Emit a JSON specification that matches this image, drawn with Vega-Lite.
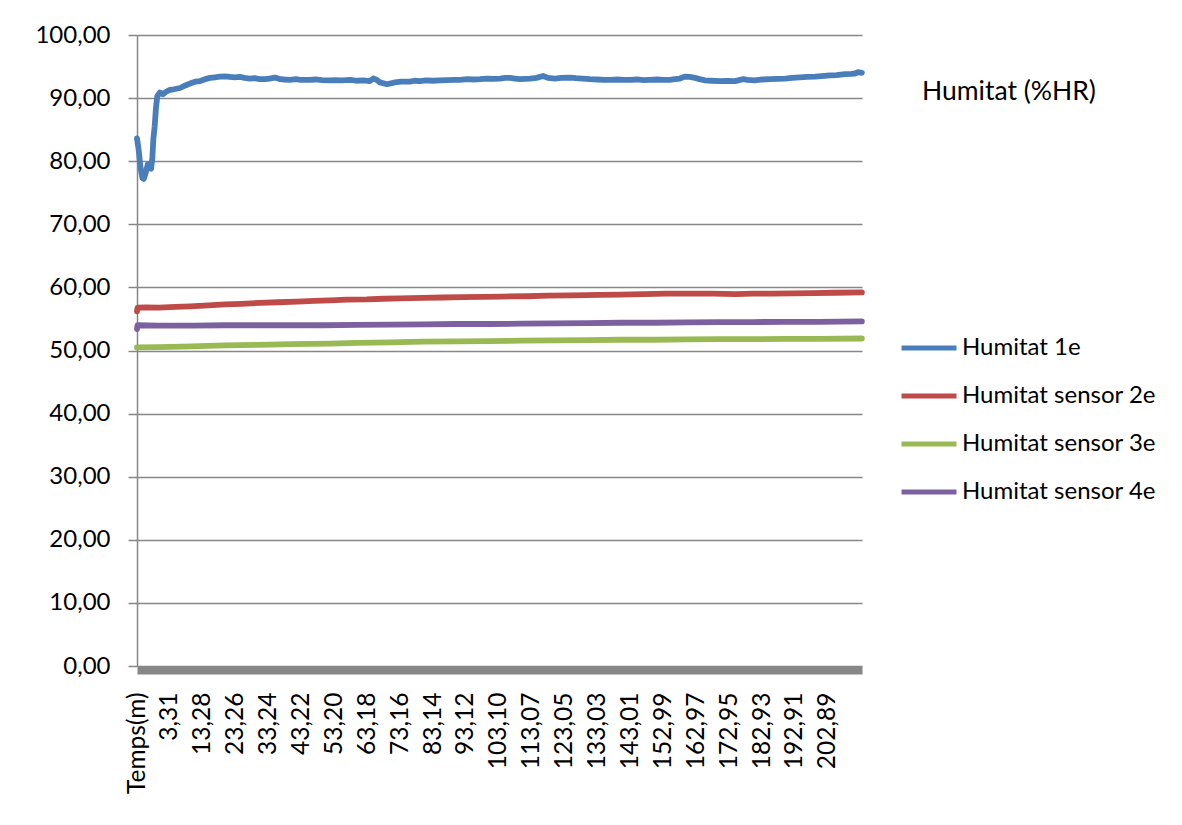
{
  "$schema": "https://vega.github.io/schema/vega-lite/v6.json",
  "width": 725,
  "height": 631,
  "autosize": {"type": "none"},
  "padding": {"left": 137, "top": 35, "right": 320, "bottom": 159},
  "background": "white",
  "title": {"text": "Humitat (%HR)", "orient": "top", "anchor": "start", "frame": "group", "dx": 785, "offset": 0, "dy": 95, "baseline": "middle", "font": "Lato", "fontSize": 26.5, "fontWeight": "normal", "color": "#000000"},
  "config": {
    "view": {"stroke": null},
    "font": "Lato"
  },
  "data": {"values": [
    {"t": -6.66, "s": "Humitat 1e", "v": 83.6},
    {"t": -6.2, "s": "Humitat 1e", "v": 82.0},
    {"t": -5.6, "s": "Humitat 1e", "v": 79.0},
    {"t": -5.0, "s": "Humitat 1e", "v": 77.3},
    {"t": -4.6, "s": "Humitat 1e", "v": 77.2},
    {"t": -4.0, "s": "Humitat 1e", "v": 78.2},
    {"t": -3.4, "s": "Humitat 1e", "v": 79.5},
    {"t": -2.9, "s": "Humitat 1e", "v": 79.0},
    {"t": -2.4, "s": "Humitat 1e", "v": 78.8},
    {"t": -2.0, "s": "Humitat 1e", "v": 80.5},
    {"t": -1.7, "s": "Humitat 1e", "v": 83.5},
    {"t": -1.3, "s": "Humitat 1e", "v": 85.5},
    {"t": -0.9, "s": "Humitat 1e", "v": 88.5},
    {"t": -0.5, "s": "Humitat 1e", "v": 90.3},
    {"t": 0.3, "s": "Humitat 1e", "v": 90.9},
    {"t": 1.2, "s": "Humitat 1e", "v": 90.6},
    {"t": 2.2, "s": "Humitat 1e", "v": 91.0},
    {"t": 3.3, "s": "Humitat 1e", "v": 91.3},
    {"t": 4.5, "s": "Humitat 1e", "v": 91.4},
    {"t": 6.4, "s": "Humitat 1e", "v": 91.6},
    {"t": 8.0, "s": "Humitat 1e", "v": 92.0},
    {"t": 9.4, "s": "Humitat 1e", "v": 92.3},
    {"t": 11.0, "s": "Humitat 1e", "v": 92.6},
    {"t": 12.5, "s": "Humitat 1e", "v": 92.7},
    {"t": 14.0, "s": "Humitat 1e", "v": 93.0},
    {"t": 15.5, "s": "Humitat 1e", "v": 93.2},
    {"t": 17.0, "s": "Humitat 1e", "v": 93.3},
    {"t": 18.5, "s": "Humitat 1e", "v": 93.4},
    {"t": 20.0, "s": "Humitat 1e", "v": 93.45},
    {"t": 21.5, "s": "Humitat 1e", "v": 93.35},
    {"t": 23.0, "s": "Humitat 1e", "v": 93.3},
    {"t": 24.5, "s": "Humitat 1e", "v": 93.35},
    {"t": 26.0, "s": "Humitat 1e", "v": 93.2},
    {"t": 27.6, "s": "Humitat 1e", "v": 93.1},
    {"t": 29.0, "s": "Humitat 1e", "v": 93.15},
    {"t": 30.5, "s": "Humitat 1e", "v": 93.0},
    {"t": 32.2, "s": "Humitat 1e", "v": 93.0},
    {"t": 33.5, "s": "Humitat 1e", "v": 93.1},
    {"t": 35.2, "s": "Humitat 1e", "v": 93.25},
    {"t": 36.8, "s": "Humitat 1e", "v": 93.0},
    {"t": 38.0, "s": "Humitat 1e", "v": 92.95},
    {"t": 39.7, "s": "Humitat 1e", "v": 92.9},
    {"t": 41.5, "s": "Humitat 1e", "v": 93.0},
    {"t": 43.0, "s": "Humitat 1e", "v": 92.9},
    {"t": 45.8, "s": "Humitat 1e", "v": 92.9},
    {"t": 47.5, "s": "Humitat 1e", "v": 92.95},
    {"t": 49.5, "s": "Humitat 1e", "v": 92.85},
    {"t": 51.9, "s": "Humitat 1e", "v": 92.8},
    {"t": 53.5, "s": "Humitat 1e", "v": 92.85},
    {"t": 55.5, "s": "Humitat 1e", "v": 92.8},
    {"t": 58.0, "s": "Humitat 1e", "v": 92.9},
    {"t": 60.0, "s": "Humitat 1e", "v": 92.75},
    {"t": 62.0, "s": "Humitat 1e", "v": 92.8},
    {"t": 64.0, "s": "Humitat 1e", "v": 92.7},
    {"t": 65.0, "s": "Humitat 1e", "v": 93.1},
    {"t": 66.0, "s": "Humitat 1e", "v": 92.9},
    {"t": 67.0, "s": "Humitat 1e", "v": 92.5},
    {"t": 69.2, "s": "Humitat 1e", "v": 92.2},
    {"t": 71.6, "s": "Humitat 1e", "v": 92.5},
    {"t": 73.5, "s": "Humitat 1e", "v": 92.6},
    {"t": 76.1, "s": "Humitat 1e", "v": 92.6},
    {"t": 77.5, "s": "Humitat 1e", "v": 92.75},
    {"t": 79.2, "s": "Humitat 1e", "v": 92.7},
    {"t": 81.0, "s": "Humitat 1e", "v": 92.8},
    {"t": 83.0, "s": "Humitat 1e", "v": 92.75},
    {"t": 85.2, "s": "Humitat 1e", "v": 92.8},
    {"t": 87.5, "s": "Humitat 1e", "v": 92.85},
    {"t": 89.5, "s": "Humitat 1e", "v": 92.9},
    {"t": 91.3, "s": "Humitat 1e", "v": 92.9},
    {"t": 93.5, "s": "Humitat 1e", "v": 93.0},
    {"t": 95.5, "s": "Humitat 1e", "v": 92.95},
    {"t": 97.4, "s": "Humitat 1e", "v": 93.0},
    {"t": 99.5, "s": "Humitat 1e", "v": 93.1},
    {"t": 101.5, "s": "Humitat 1e", "v": 93.05},
    {"t": 103.4, "s": "Humitat 1e", "v": 93.1},
    {"t": 105.0, "s": "Humitat 1e", "v": 93.2},
    {"t": 106.5, "s": "Humitat 1e", "v": 93.2},
    {"t": 108.0, "s": "Humitat 1e", "v": 93.1},
    {"t": 109.5, "s": "Humitat 1e", "v": 93.0},
    {"t": 111.0, "s": "Humitat 1e", "v": 93.05},
    {"t": 112.5, "s": "Humitat 1e", "v": 93.1},
    {"t": 114.5, "s": "Humitat 1e", "v": 93.2},
    {"t": 116.5, "s": "Humitat 1e", "v": 93.5},
    {"t": 118.0, "s": "Humitat 1e", "v": 93.2},
    {"t": 120.1, "s": "Humitat 1e", "v": 93.1},
    {"t": 122.0, "s": "Humitat 1e", "v": 93.2},
    {"t": 124.7, "s": "Humitat 1e", "v": 93.25},
    {"t": 126.5, "s": "Humitat 1e", "v": 93.15},
    {"t": 128.5, "s": "Humitat 1e", "v": 93.1},
    {"t": 130.7, "s": "Humitat 1e", "v": 93.0},
    {"t": 133.0, "s": "Humitat 1e", "v": 92.95},
    {"t": 135.0, "s": "Humitat 1e", "v": 92.9},
    {"t": 136.8, "s": "Humitat 1e", "v": 92.9},
    {"t": 139.0, "s": "Humitat 1e", "v": 92.95},
    {"t": 141.0, "s": "Humitat 1e", "v": 92.9},
    {"t": 142.9, "s": "Humitat 1e", "v": 92.9},
    {"t": 145.0, "s": "Humitat 1e", "v": 92.95},
    {"t": 147.0, "s": "Humitat 1e", "v": 92.85},
    {"t": 148.9, "s": "Humitat 1e", "v": 92.9},
    {"t": 151.0, "s": "Humitat 1e", "v": 92.95},
    {"t": 153.0, "s": "Humitat 1e", "v": 92.9},
    {"t": 155.0, "s": "Humitat 1e", "v": 92.9},
    {"t": 156.5, "s": "Humitat 1e", "v": 93.0},
    {"t": 158.0, "s": "Humitat 1e", "v": 93.1},
    {"t": 159.5, "s": "Humitat 1e", "v": 93.4},
    {"t": 161.0, "s": "Humitat 1e", "v": 93.35},
    {"t": 162.6, "s": "Humitat 1e", "v": 93.2},
    {"t": 164.0, "s": "Humitat 1e", "v": 93.0},
    {"t": 165.6, "s": "Humitat 1e", "v": 92.8},
    {"t": 167.5, "s": "Humitat 1e", "v": 92.75},
    {"t": 170.2, "s": "Humitat 1e", "v": 92.7},
    {"t": 172.5, "s": "Humitat 1e", "v": 92.72},
    {"t": 174.7, "s": "Humitat 1e", "v": 92.7},
    {"t": 176.0, "s": "Humitat 1e", "v": 92.85},
    {"t": 177.2, "s": "Humitat 1e", "v": 93.0},
    {"t": 178.5, "s": "Humitat 1e", "v": 92.9},
    {"t": 180.8, "s": "Humitat 1e", "v": 92.8},
    {"t": 183.0, "s": "Humitat 1e", "v": 92.95},
    {"t": 185.3, "s": "Humitat 1e", "v": 93.0},
    {"t": 187.5, "s": "Humitat 1e", "v": 93.05},
    {"t": 189.9, "s": "Humitat 1e", "v": 93.1},
    {"t": 192.0, "s": "Humitat 1e", "v": 93.2},
    {"t": 194.4, "s": "Humitat 1e", "v": 93.3},
    {"t": 196.5, "s": "Humitat 1e", "v": 93.35},
    {"t": 199.0, "s": "Humitat 1e", "v": 93.4},
    {"t": 201.0, "s": "Humitat 1e", "v": 93.5},
    {"t": 203.5, "s": "Humitat 1e", "v": 93.6},
    {"t": 205.5, "s": "Humitat 1e", "v": 93.65},
    {"t": 208.1, "s": "Humitat 1e", "v": 93.8},
    {"t": 210.0, "s": "Humitat 1e", "v": 93.85},
    {"t": 211.1, "s": "Humitat 1e", "v": 93.9},
    {"t": 212.0, "s": "Humitat 1e", "v": 94.1},
    {"t": 213.2, "s": "Humitat 1e", "v": 94.0},

    {"t": -6.66, "s": "Humitat sensor 2e", "v": 56.2},
    {"t": -6.5, "s": "Humitat sensor 2e", "v": 56.8},
    {"t": -4, "s": "Humitat sensor 2e", "v": 56.85},
    {"t": 0, "s": "Humitat sensor 2e", "v": 56.8},
    {"t": 5, "s": "Humitat sensor 2e", "v": 56.9},
    {"t": 9.4, "s": "Humitat sensor 2e", "v": 57.0},
    {"t": 15, "s": "Humitat sensor 2e", "v": 57.15},
    {"t": 20, "s": "Humitat sensor 2e", "v": 57.3},
    {"t": 25, "s": "Humitat sensor 2e", "v": 57.4},
    {"t": 30.6, "s": "Humitat sensor 2e", "v": 57.55},
    {"t": 36, "s": "Humitat sensor 2e", "v": 57.65},
    {"t": 42, "s": "Humitat sensor 2e", "v": 57.75},
    {"t": 47, "s": "Humitat sensor 2e", "v": 57.85},
    {"t": 51.9, "s": "Humitat sensor 2e", "v": 57.95},
    {"t": 57, "s": "Humitat sensor 2e", "v": 58.05},
    {"t": 63, "s": "Humitat sensor 2e", "v": 58.1},
    {"t": 68, "s": "Humitat sensor 2e", "v": 58.2},
    {"t": 73, "s": "Humitat sensor 2e", "v": 58.25},
    {"t": 80, "s": "Humitat sensor 2e", "v": 58.35},
    {"t": 86, "s": "Humitat sensor 2e", "v": 58.4},
    {"t": 92, "s": "Humitat sensor 2e", "v": 58.45},
    {"t": 98, "s": "Humitat sensor 2e", "v": 58.5},
    {"t": 104, "s": "Humitat sensor 2e", "v": 58.55},
    {"t": 111.6, "s": "Humitat sensor 2e", "v": 58.6},
    {"t": 118, "s": "Humitat sensor 2e", "v": 58.7},
    {"t": 125, "s": "Humitat sensor 2e", "v": 58.75},
    {"t": 133.8, "s": "Humitat sensor 2e", "v": 58.8},
    {"t": 140, "s": "Humitat sensor 2e", "v": 58.85},
    {"t": 147, "s": "Humitat sensor 2e", "v": 58.95},
    {"t": 154, "s": "Humitat sensor 2e", "v": 59.0},
    {"t": 160, "s": "Humitat sensor 2e", "v": 59.0},
    {"t": 168, "s": "Humitat sensor 2e", "v": 59.0},
    {"t": 175, "s": "Humitat sensor 2e", "v": 58.95},
    {"t": 180, "s": "Humitat sensor 2e", "v": 59.0},
    {"t": 186, "s": "Humitat sensor 2e", "v": 59.0},
    {"t": 192, "s": "Humitat sensor 2e", "v": 59.05},
    {"t": 198, "s": "Humitat sensor 2e", "v": 59.1},
    {"t": 205, "s": "Humitat sensor 2e", "v": 59.15},
    {"t": 213.2, "s": "Humitat sensor 2e", "v": 59.2},

    {"t": -6.66, "s": "Humitat sensor 3e", "v": 50.5},
    {"t": 0, "s": "Humitat sensor 3e", "v": 50.55},
    {"t": 10, "s": "Humitat sensor 3e", "v": 50.65},
    {"t": 20, "s": "Humitat sensor 3e", "v": 50.8},
    {"t": 30, "s": "Humitat sensor 3e", "v": 50.9},
    {"t": 40, "s": "Humitat sensor 3e", "v": 51.0},
    {"t": 52, "s": "Humitat sensor 3e", "v": 51.1},
    {"t": 60, "s": "Humitat sensor 3e", "v": 51.2},
    {"t": 70, "s": "Humitat sensor 3e", "v": 51.3},
    {"t": 80, "s": "Humitat sensor 3e", "v": 51.4},
    {"t": 90, "s": "Humitat sensor 3e", "v": 51.45},
    {"t": 100, "s": "Humitat sensor 3e", "v": 51.5},
    {"t": 110, "s": "Humitat sensor 3e", "v": 51.55},
    {"t": 120, "s": "Humitat sensor 3e", "v": 51.6},
    {"t": 130, "s": "Humitat sensor 3e", "v": 51.65},
    {"t": 140, "s": "Humitat sensor 3e", "v": 51.7},
    {"t": 150, "s": "Humitat sensor 3e", "v": 51.7},
    {"t": 160, "s": "Humitat sensor 3e", "v": 51.75},
    {"t": 170, "s": "Humitat sensor 3e", "v": 51.8},
    {"t": 180, "s": "Humitat sensor 3e", "v": 51.8},
    {"t": 190, "s": "Humitat sensor 3e", "v": 51.85},
    {"t": 200, "s": "Humitat sensor 3e", "v": 51.85},
    {"t": 213.2, "s": "Humitat sensor 3e", "v": 51.9},

    {"t": -6.66, "s": "Humitat sensor 4e", "v": 53.4},
    {"t": -6.5, "s": "Humitat sensor 4e", "v": 54.0},
    {"t": 0, "s": "Humitat sensor 4e", "v": 53.95},
    {"t": 10, "s": "Humitat sensor 4e", "v": 53.95},
    {"t": 20, "s": "Humitat sensor 4e", "v": 54.0},
    {"t": 30, "s": "Humitat sensor 4e", "v": 54.0},
    {"t": 40, "s": "Humitat sensor 4e", "v": 54.0},
    {"t": 50, "s": "Humitat sensor 4e", "v": 54.0},
    {"t": 60, "s": "Humitat sensor 4e", "v": 54.05},
    {"t": 70, "s": "Humitat sensor 4e", "v": 54.1},
    {"t": 80, "s": "Humitat sensor 4e", "v": 54.15},
    {"t": 90, "s": "Humitat sensor 4e", "v": 54.2},
    {"t": 100, "s": "Humitat sensor 4e", "v": 54.2},
    {"t": 110, "s": "Humitat sensor 4e", "v": 54.25},
    {"t": 120, "s": "Humitat sensor 4e", "v": 54.3},
    {"t": 130, "s": "Humitat sensor 4e", "v": 54.35},
    {"t": 140, "s": "Humitat sensor 4e", "v": 54.4},
    {"t": 150, "s": "Humitat sensor 4e", "v": 54.4},
    {"t": 160, "s": "Humitat sensor 4e", "v": 54.45},
    {"t": 170, "s": "Humitat sensor 4e", "v": 54.5},
    {"t": 180, "s": "Humitat sensor 4e", "v": 54.5},
    {"t": 190, "s": "Humitat sensor 4e", "v": 54.55},
    {"t": 200, "s": "Humitat sensor 4e", "v": 54.55},
    {"t": 213.2, "s": "Humitat sensor 4e", "v": 54.6}
  ]},
  "mark": {"type": "line", "strokeWidth": 5.8, "strokeCap": "round", "strokeJoin": "round", "clip": false},
  "encoding": {
    "x": {
      "field": "t", "type": "quantitative",
      "scale": {"domain": [-6.66, 213.24], "nice": false, "zero": false},
      "axis": {
        "title": null,
        "values": [-6.66, 3.31, 13.28, 23.26, 33.24, 43.22, 53.20, 63.18, 73.16, 83.14, 93.12, 103.10, 113.07, 123.05, 133.03, 143.01, 152.99, 162.97, 172.95, 182.93, 192.91, 202.89],
        "labelExpr": "datum.value < 0 ? 'Temps(m)' : replace(format(datum.value, '.2f'), '.', ',')",
        "labelAngle": -90,
        "labelAlign": "right",
        "labelBaseline": "middle",
        "labelFont": "Lato",
        "labelFontSize": 24.5,
        "labelColor": "#000000",
        "labelPadding": 22,
        "labelOverlap": false,
        "labelFlush": false,
        "grid": false,
        "ticks": false,
        "offset": 4,
        "domainColor": "#878787",
        "domainWidth": 8
      }
    },
    "y": {
      "field": "v", "type": "quantitative",
      "scale": {"domain": [0, 100], "nice": false},
      "axis": {
        "title": null,
        "values": [0, 10, 20, 30, 40, 50, 60, 70, 80, 90, 100],
        "labelExpr": "replace(format(datum.value, '.2f'), '.', ',')",
        "labelFont": "Lato",
        "labelFontSize": 24,
        "labelColor": "#000000",
        "labelPadding": 18,
        "tickSize": 9,
        "tickColor": "#878787",
        "tickWidth": 1.5,
        "domainColor": "#878787",
        "domainWidth": 1.5,
        "gridColor": "#878787",
        "gridWidth": 1.5
      }
    },
    "color": {
      "field": "s", "type": "nominal",
      "scale": {
        "domain": ["Humitat 1e", "Humitat sensor 2e", "Humitat sensor 3e", "Humitat sensor 4e"],
        "range": ["#4A7EBB", "#BE4B48", "#98B954", "#7D60A0"]
      },
      "legend": {
        "title": null,
        "orient": "none",
        "legendX": 762,
        "legendY": 283,
        "symbolType": "stroke",
        "symbolSize": 3025,
        "symbolStrokeWidth": 5,
        "labelFont": "Lato",
        "labelFontSize": 24,
        "labelColor": "#000000",
        "labelLimit": 400,
        "labelOffset": 3,
        "rowPadding": 6
      }
    }
  }
}
